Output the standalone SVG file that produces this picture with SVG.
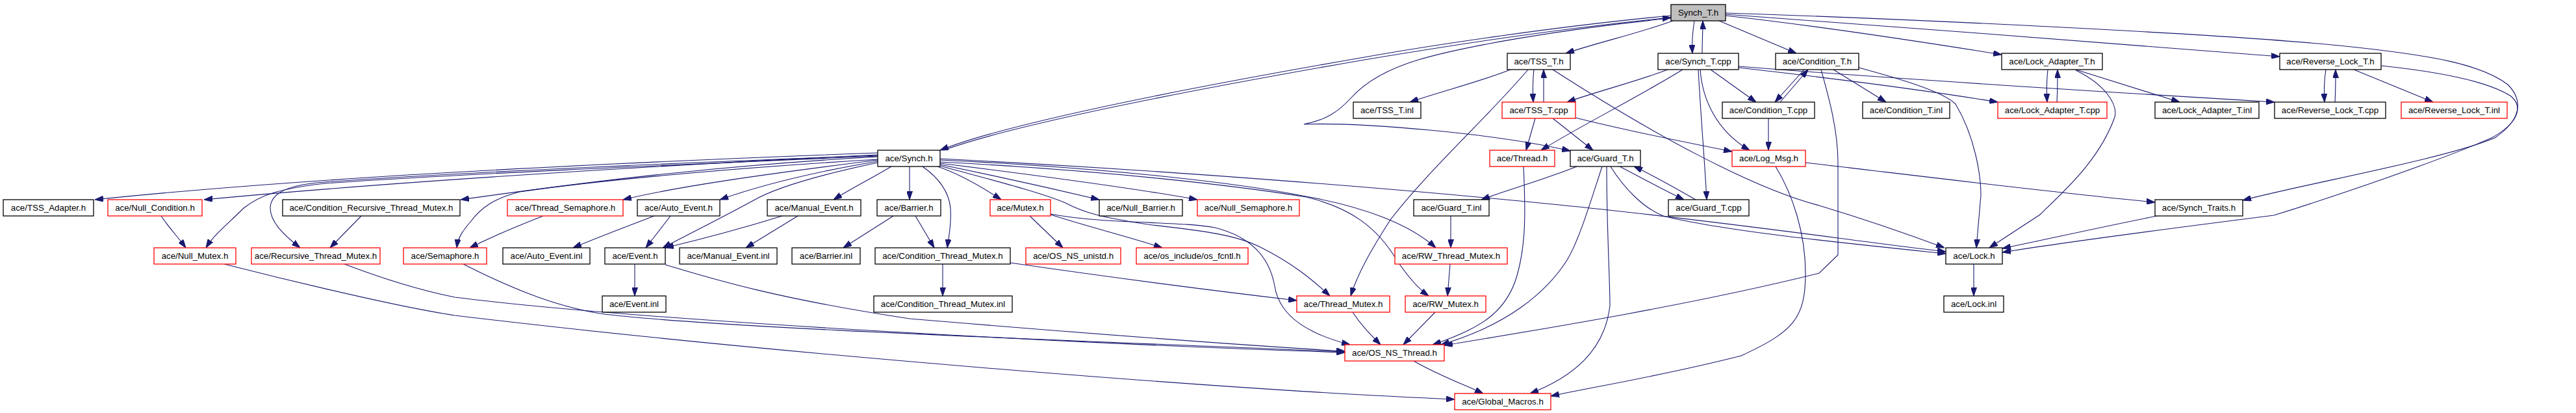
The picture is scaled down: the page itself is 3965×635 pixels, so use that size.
<svg xmlns="http://www.w3.org/2000/svg" width="3965" height="635" viewBox="0 0 3965 635">
<style>
.n rect{fill:#ffffff;stroke:#000000;stroke-width:1.3}
.n.r rect{stroke:#ff0000}
.n.root rect{fill:#bfbfbf}
.n text{font-family:"Liberation Sans",Helvetica,Arial,sans-serif;font-size:13.3px;text-anchor:middle;fill:#000000}
#edges path{fill:none;stroke:#191970;stroke-width:1.1;marker-end:url(#arr)}
</style>
<defs>
<marker id="arr" markerUnits="userSpaceOnUse" markerWidth="13" markerHeight="9" refX="13" refY="4.5" orient="auto"><path d="M0,0 L13,4.5 L0,9 z" fill="#191970" stroke="#191970" stroke-width="1"/></marker>
</defs>
<rect x="0" y="0" width="3965" height="635" fill="#ffffff"/>
<g id="edges">
<path d="M2575,32 C2520,52 2460,65 2410,82"/>
<path d="M2608,32 C2605,50 2604,65 2605,82"/>
<path d="M2620,82 C2620,65 2621,48 2621,32"/>
<path d="M2646,32 L2765,82"/>
<path d="M2656,24 C2800,40 2950,63 3081,84"/>
<path d="M2656,22 C2900,40 3300,70 3509,87"/>
<path d="M2656,20 C2900,28 3400,50 3600,70 C3750,85 3820,100 3860,130 C3885,155 3880,185 3840,212 C3760,245 3560,280 3452,308"/>
<path d="M2572,24 C2400,40 2200,70 2100,88 C1800,140 1550,190 1447,231"/>
<path d="M1452,231 C1560,192 1800,144 2100,92 C2250,67 2400,44 2572,27"/>
<path d="M2572,28 C2400,45 2250,72 2183,92 C2130,108 2100,128 2080,150 C2060,172 2040,185 2007,191 C2100,188 2300,205 2417,232"/>
<path d="M2325,107 C2280,125 2220,140 2170,157"/>
<path d="M2361,107 C2359,125 2359,140 2360,157"/>
<path d="M2376,157 C2376,140 2376,125 2376,107"/>
<path d="M2352,107 C2290,180 2200,260 2140,338 C2110,385 2090,420 2079,455"/>
<path d="M2390,107 C2550,210 2700,290 2800,316 C2880,340 2950,365 2993,381"/>
<path d="M2567,107 C2520,125 2460,140 2412,157"/>
<path d="M2590,107 C2520,150 2430,195 2372,231"/>
<path d="M2614,107 C2618,180 2624,250 2627,307"/>
<path d="M2617,107 C2620,150 2640,200 2693,231"/>
<path d="M2633,107 L2703,157"/>
<path d="M2676,104 C2800,118 2960,138 3075,157"/>
<path d="M2676,102 C2900,120 3300,145 3501,157"/>
<path d="M2777,107 L2732,157"/>
<path d="M2740,157 L2783,107"/>
<path d="M2822,107 L2903,157"/>
<path d="M2861,104 C2920,120 2990,140 3010,160 C3040,210 3049,270 3049,300 L3042,381"/>
<path d="M2803,107 C2815,150 2829,200 2829,250 L2829,392 L2800,420 C2600,470 2350,510 2223,531"/>
<path d="M3152,107 C3150,125 3150,140 3151,157"/>
<path d="M3166,157 C3167,140 3167,125 3167,107"/>
<path d="M3195,107 L3355,157"/>
<path d="M3195,108 C3240,130 3260,160 3255,180 C3230,250 3170,300 3140,330 L3062,381"/>
<path d="M3580,107 C3577,125 3577,140 3578,157"/>
<path d="M3594,157 C3595,140 3595,125 3595,107"/>
<path d="M3623,107 L3745,157"/>
<path d="M3665,101 C3750,110 3830,125 3865,148 C3885,165 3875,190 3835,212 C3760,245 3600,300 3500,331 C3350,350 3180,372 3082,388"/>
<path d="M2363,182 L2349,231"/>
<path d="M2390,182 L2452,231"/>
<path d="M2425,181 C2500,200 2600,220 2666,233"/>
<path d="M2722,182 L2722,231"/>
<path d="M2427,256 C2380,275 2320,292 2280,307"/>
<path d="M2493,256 C2530,275 2560,292 2592,307"/>
<path d="M2610,307 C2580,290 2550,272 2515,256"/>
<path d="M2466,256 C2445,320 2430,370 2412,400 C2380,450 2320,500 2218,530"/>
<path d="M2473,256 C2473,350 2478,430 2478,470 C2470,540 2420,580 2355,605"/>
<path d="M2479,256 C2500,290 2530,320 2560,332 C2650,355 2850,375 2995,390"/>
<path d="M2345,256 C2348,320 2350,380 2332,433 C2315,480 2280,505 2205,530"/>
<path d="M2733,256 C2760,300 2779,360 2779,420 C2779,490 2760,510 2680,547 C2550,580 2450,595 2387,609"/>
<path d="M2779,250 C2950,270 3150,295 3317,311"/>
<path d="M2233,332 L2233,381"/>
<path d="M2232,406 L2228,455"/>
<path d="M2209,480 L2160,530"/>
<path d="M2082,480 C2095,500 2110,515 2125,530"/>
<path d="M2176,555 C2210,575 2250,590 2283,605"/>
<path d="M3320,332 C3230,350 3150,368 3082,382"/>
<path d="M3038,406 L3038,455"/>
<path d="M1351,235 C1000,248 500,270 146,307"/>
<path d="M1351,238 C1000,255 600,280 314,307"/>
<path d="M1351,240 C1000,255 700,268 500,282 C430,290 400,300 375,320 C350,345 330,360 317,381"/>
<path d="M1351,239 C1000,252 700,266 500,280 C440,284 418,298 416,318 C415,340 435,360 462,381"/>
<path d="M1351,241 C1100,255 900,280 709,307"/>
<path d="M1351,245 C1100,260 900,280 800,295 C760,305 740,320 725,340 C712,355 705,365 703,381"/>
<path d="M1351,246 C1200,265 1050,285 959,307"/>
<path d="M1351,248 C1250,265 1170,285 1108,307"/>
<path d="M1351,250 C1280,265 1200,285 1160,308 C1120,330 1070,355 1020,381"/>
<path d="M1372,256 C1340,275 1310,290 1283,307"/>
<path d="M1400,256 C1400,275 1400,290 1400,307"/>
<path d="M1420,256 C1440,270 1460,290 1463,320 C1465,345 1460,365 1458,381"/>
<path d="M1443,256 C1470,265 1500,280 1541,307"/>
<path d="M1447,253 C1530,270 1620,290 1692,307"/>
<path d="M1447,251 C1600,270 1750,290 1843,307"/>
<path d="M1447,255 C1520,275 1600,295 1640,312 C1670,328 1700,335 1766,345 C1850,355 1900,360 1940,380 C1990,405 2020,430 2047,455"/>
<path d="M1447,246 C1700,258 1900,280 2010,302 C2100,318 2170,345 2210,381"/>
<path d="M1447,249 C1700,262 1900,285 2011,303 C2080,320 2120,350 2150,400 C2170,430 2185,445 2199,455"/>
<path d="M1447,244 C1800,262 2150,290 2400,315 C2650,340 2850,370 2995,387"/>
<path d="M977,406 L977,455"/>
<path d="M1024,407 C1100,430 1200,460 1400,490 C1700,515 1900,530 2070,540"/>
<path d="M713,406 C780,440 850,470 923,482 C1100,505 1700,525 2070,541"/>
<path d="M530,406 C580,425 640,445 700,457 C1000,495 1700,530 2070,542"/>
<path d="M345,406 C400,420 600,470 700,485 C1200,545 1900,600 2239,614"/>
<path d="M1007,332 C960,350 920,365 882,381"/>
<path d="M1032,332 L994,381"/>
<path d="M1204,332 C1130,355 1070,370 1024,381"/>
<path d="M1228,332 L1148,381"/>
<path d="M836,332 C790,350 755,365 723,381"/>
<path d="M1375,332 L1298,381"/>
<path d="M1409,332 L1438,381"/>
<path d="M556,332 L508,381"/>
<path d="M248,332 C260,350 272,362 286,381"/>
<path d="M1451,406 L1451,455"/>
<path d="M1555,404 C1700,425 1850,445 1996,462"/>
<path d="M1585,332 L1636,381"/>
<path d="M1617,330 C1680,350 1740,365 1789,381"/>
<path d="M1617,329 C1700,345 1820,340 1870,350 C1930,365 1955,400 1962,440 C1970,490 2020,515 2078,530"/>
</g>
<g id="n_synch_t_h" class="n root"><rect x="2572" y="7" width="84" height="25"/><text x="2614" y="24.2">Synch_T.h</text></g>
<g id="n_tss_t_h" class="n"><rect x="2320" y="82" width="97" height="25"/><text x="2368.5" y="99.2">ace/TSS_T.h</text></g>
<g id="n_synch_t_cpp" class="n"><rect x="2552" y="82" width="124" height="25"/><text x="2614" y="99.2">ace/Synch_T.cpp</text></g>
<g id="n_condition_t_h" class="n"><rect x="2733" y="82" width="128" height="25"/><text x="2797" y="99.2">ace/Condition_T.h</text></g>
<g id="n_lock_adapter_t_h" class="n"><rect x="3081" y="82" width="155" height="25"/><text x="3158.5" y="99.2">ace/Lock_Adapter_T.h</text></g>
<g id="n_reverse_lock_t_h" class="n"><rect x="3509" y="82" width="156" height="25"/><text x="3587" y="99.2">ace/Reverse_Lock_T.h</text></g>
<g id="n_tss_t_inl" class="n"><rect x="2083" y="157" width="104" height="25"/><text x="2135" y="174.2">ace/TSS_T.inl</text></g>
<g id="n_tss_t_cpp" class="n r"><rect x="2312" y="157" width="113" height="25"/><text x="2368.5" y="174.2">ace/TSS_T.cpp</text></g>
<g id="n_condition_t_cpp" class="n"><rect x="2651" y="157" width="142" height="25"/><text x="2722" y="174.2">ace/Condition_T.cpp</text></g>
<g id="n_condition_t_inl" class="n"><rect x="2867" y="157" width="134" height="25"/><text x="2934" y="174.2">ace/Condition_T.inl</text></g>
<g id="n_lock_adapter_t_cpp" class="n r"><rect x="3075" y="157" width="168" height="25"/><text x="3159" y="174.2">ace/Lock_Adapter_T.cpp</text></g>
<g id="n_lock_adapter_t_inl" class="n"><rect x="3317" y="157" width="160" height="25"/><text x="3397" y="174.2">ace/Lock_Adapter_T.inl</text></g>
<g id="n_reverse_lock_t_cpp" class="n"><rect x="3501" y="157" width="171" height="25"/><text x="3586.5" y="174.2">ace/Reverse_Lock_T.cpp</text></g>
<g id="n_reverse_lock_t_inl" class="n r"><rect x="3696" y="157" width="163" height="25"/><text x="3777.5" y="174.2">ace/Reverse_Lock_T.inl</text></g>
<g id="n_synch_h" class="n"><rect x="1351" y="231" width="96" height="25"/><text x="1399" y="248.2">ace/Synch.h</text></g>
<g id="n_thread_h" class="n r"><rect x="2293" y="231" width="100" height="25"/><text x="2343" y="248.2">ace/Thread.h</text></g>
<g id="n_guard_t_h" class="n"><rect x="2417" y="231" width="108" height="25"/><text x="2471" y="248.2">ace/Guard_T.h</text></g>
<g id="n_log_msg_h" class="n r"><rect x="2666" y="231" width="113" height="25"/><text x="2722.5" y="248.2">ace/Log_Msg.h</text></g>
<g id="n_tss_adapter_h" class="n"><rect x="5" y="307" width="139" height="25"/><text x="74.5" y="324.2">ace/TSS_Adapter.h</text></g>
<g id="n_null_condition_h" class="n r"><rect x="166" y="307" width="145" height="25"/><text x="238.5" y="324.2">ace/Null_Condition.h</text></g>
<g id="n_condition_recursive_thread_mutex_h" class="n"><rect x="435" y="307" width="273" height="25"/><text x="571.5" y="324.2">ace/Condition_Recursive_Thread_Mutex.h</text></g>
<g id="n_thread_semaphore_h" class="n r"><rect x="781" y="307" width="178" height="25"/><text x="870" y="324.2">ace/Thread_Semaphore.h</text></g>
<g id="n_auto_event_h" class="n"><rect x="981" y="307" width="127" height="25"/><text x="1044.5" y="324.2">ace/Auto_Event.h</text></g>
<g id="n_manual_event_h" class="n"><rect x="1181" y="307" width="144" height="25"/><text x="1253" y="324.2">ace/Manual_Event.h</text></g>
<g id="n_barrier_h" class="n"><rect x="1350" y="307" width="98" height="25"/><text x="1399" y="324.2">ace/Barrier.h</text></g>
<g id="n_mutex_h" class="n r"><rect x="1524" y="307" width="93" height="25"/><text x="1570.5" y="324.2">ace/Mutex.h</text></g>
<g id="n_null_barrier_h" class="n"><rect x="1692" y="307" width="128" height="25"/><text x="1756" y="324.2">ace/Null_Barrier.h</text></g>
<g id="n_null_semaphore_h" class="n r"><rect x="1843" y="307" width="157" height="25"/><text x="1921.5" y="324.2">ace/Null_Semaphore.h</text></g>
<g id="n_guard_t_inl" class="n"><rect x="2176" y="307" width="116" height="25"/><text x="2234" y="324.2">ace/Guard_T.inl</text></g>
<g id="n_guard_t_cpp" class="n"><rect x="2568" y="307" width="124" height="25"/><text x="2630" y="324.2">ace/Guard_T.cpp</text></g>
<g id="n_synch_traits_h" class="n"><rect x="3317" y="307" width="135" height="25"/><text x="3384.5" y="324.2">ace/Synch_Traits.h</text></g>
<g id="n_null_mutex_h" class="n r"><rect x="237" y="381" width="126" height="25"/><text x="300" y="398.2">ace/Null_Mutex.h</text></g>
<g id="n_recursive_thread_mutex_h" class="n r"><rect x="387" y="381" width="198" height="25"/><text x="486" y="398.2">ace/Recursive_Thread_Mutex.h</text></g>
<g id="n_semaphore_h" class="n r"><rect x="621" y="381" width="128" height="25"/><text x="685" y="398.2">ace/Semaphore.h</text></g>
<g id="n_auto_event_inl" class="n"><rect x="774" y="381" width="134" height="25"/><text x="841" y="398.2">ace/Auto_Event.inl</text></g>
<g id="n_event_h" class="n"><rect x="931" y="381" width="93" height="25"/><text x="977.5" y="398.2">ace/Event.h</text></g>
<g id="n_manual_event_inl" class="n"><rect x="1046" y="381" width="150" height="25"/><text x="1121" y="398.2">ace/Manual_Event.inl</text></g>
<g id="n_barrier_inl" class="n"><rect x="1219" y="381" width="105" height="25"/><text x="1271.5" y="398.2">ace/Barrier.inl</text></g>
<g id="n_condition_thread_mutex_h" class="n"><rect x="1347" y="381" width="208" height="25"/><text x="1451" y="398.2">ace/Condition_Thread_Mutex.h</text></g>
<g id="n_os_ns_unistd_h" class="n r"><rect x="1579" y="381" width="146" height="25"/><text x="1652" y="398.2">ace/OS_NS_unistd.h</text></g>
<g id="n_os_fcntl_h" class="n r"><rect x="1749" y="381" width="172" height="25"/><text x="1835" y="398.2">ace/os_include/os_fcntl.h</text></g>
<g id="n_rw_thread_mutex_h" class="n r"><rect x="2147" y="381" width="173" height="25"/><text x="2233.5" y="398.2">ace/RW_Thread_Mutex.h</text></g>
<g id="n_lock_h" class="n"><rect x="2995" y="381" width="87" height="25"/><text x="3038.5" y="398.2">ace/Lock.h</text></g>
<g id="n_event_inl" class="n"><rect x="927" y="455" width="98" height="25"/><text x="976" y="472.2">ace/Event.inl</text></g>
<g id="n_condition_thread_mutex_inl" class="n"><rect x="1345" y="455" width="213" height="25"/><text x="1451.5" y="472.2">ace/Condition_Thread_Mutex.inl</text></g>
<g id="n_thread_mutex_h" class="n r"><rect x="1996" y="455" width="143" height="25"/><text x="2067.5" y="472.2">ace/Thread_Mutex.h</text></g>
<g id="n_rw_mutex_h" class="n r"><rect x="2163" y="455" width="124" height="25"/><text x="2225" y="472.2">ace/RW_Mutex.h</text></g>
<g id="n_lock_inl" class="n"><rect x="2992" y="455" width="92" height="25"/><text x="3038" y="472.2">ace/Lock.inl</text></g>
<g id="n_os_ns_thread_h" class="n r"><rect x="2070" y="530" width="153" height="25"/><text x="2146.5" y="547.2">ace/OS_NS_Thread.h</text></g>
<g id="n_global_macros_h" class="n r"><rect x="2239" y="605" width="148" height="25"/><text x="2313" y="622.2">ace/Global_Macros.h</text></g>
</svg>
